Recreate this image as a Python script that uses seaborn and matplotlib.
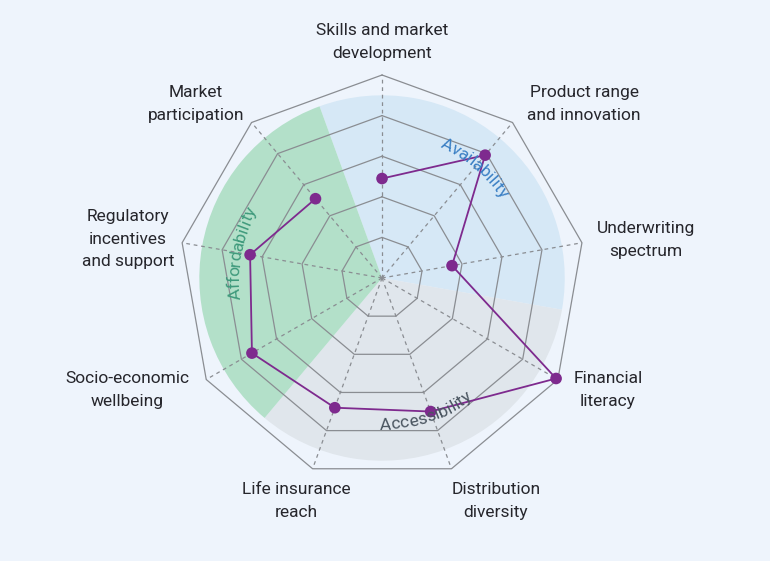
import numpy as np
import pandas as pd
import matplotlib
matplotlib.use('Agg')
import matplotlib.pyplot as plt
import seaborn as sns
from matplotlib.font_manager import FontProperties

# Datos del radar (escala 0-5)
categorias = ['Skills and market\ndevelopment', 'Product range\nand innovation',
              'Underwriting\nspectrum', 'Financial\nliteracy', 'Distribution\ndiversity',
              'Life insurance\nreach', 'Socio-economic\nwellbeing',
              'Regulatory\nincentives\nand support', 'Market\nparticipation']
valores = [2.45, 3.95, 1.75, 4.95, 3.5, 3.4, 3.7, 3.3, 2.55]
grupos = ['Availability', 'Accessibility', 'Affordability']
grupo_centros = [40, 160, 280]
grupo_colores = ['#d6e8f6', '#e0e6ec', '#b3e0c9']
grupo_texto = ['#3a7fc4', '#4a5560', '#3f9a7c']
niveles = [1, 2, 3, 4, 5]

sns.set_theme(style='white')
plt.rcParams['font.family'] = ['Roboto', 'DejaVu Sans']

BG = '#eef4fc'
W, H = 770, 561
fig = plt.figure(figsize=(7.7, 5.61), dpi=100, facecolor=BG)
ax = fig.add_axes([0.2325, 0.1426, 0.5273, 0.7237], projection='polar')
ax.set_facecolor('none')
ax.set_theta_zero_location('N')
ax.set_theta_direction(-1)
ax.set_ylim(0, 5)
ax.grid(False)
ax.spines['polar'].set_visible(False)
ax.set_xticks([])
ax.set_yticks([])

n = len(categorias)
angulos = np.deg2rad(np.arange(n) * 360 / n)

# Sectores de fondo
for centro, col in zip(grupo_centros, grupo_colores):
    ax.bar(np.deg2rad(centro), 4.5, width=np.deg2rad(120), bottom=0,
           color=col, edgecolor='none', zorder=0)

# Rejilla poligonal
cerrado = np.append(angulos, angulos[0])
for lv in niveles:
    ax.plot(cerrado, [lv] * (n + 1), color='#8a8d92', lw=0.9, zorder=1, clip_on=False)
for a in angulos:
    ax.plot([a, a], [0, 5], color='#8a8d92', lw=0.9, ls=(0, (3, 3)), zorder=1, clip_on=False)

# Serie
df = pd.DataFrame({'theta': np.append(angulos, angulos[0]),
                   'valor': valores + [valores[0]]})
sns.lineplot(data=df, x='theta', y='valor', sort=False, color='#7e2a8e', lw=1.3,
             ax=ax, zorder=3)
sns.scatterplot(data=df.iloc[:n], x='theta', y='valor', color='#7e2a8e', s=70,
                edgecolor='none', ax=ax, zorder=4, clip_on=False)
ax.set_xlabel('')
ax.set_ylabel('')

# Etiquetas de ejes (posición en píxeles de la figura)
pos_etq = [(382, 42), (584, 104), (646, 240), (608, 390), (496, 501),
           (296, 501), (127, 390), (128, 239), (196, 104)]
for cat, (px, py) in zip(categorias, pos_etq):
    fig.text(px / W, 1 - py / H, cat, ha='center', va='center', ma='center',
             fontsize=12.5, color='#26262c', linespacing=1.6)

# Texto curvo de los grupos
fig.canvas.draw()
renderer = fig.canvas.get_renderer()
fp = FontProperties(family=['Roboto', 'DejaVu Sans'], size=12.5)
p0 = ax.transData.transform((0, 0))
p1 = ax.transData.transform((0, 1))
px_por_unidad = np.hypot(*(p1 - p0))


def texto_curvo(txt, centro, radio, color, invertir=False):
    anchos = [renderer.get_text_width_height_descent(c, fp, ismath=False)[0] for c in txt]
    r_px = radio * px_por_unidad
    total = np.rad2deg(sum(anchos) / r_px)
    acum = 0
    for c, w in zip(txt, anchos):
        d = np.rad2deg((acum + w / 2) / r_px)
        if invertir:
            b = centro + total / 2 - d
            rot = 180 - b
        else:
            b = centro - total / 2 + d
            rot = -b
        ax.text(np.deg2rad(b), radio, c, fontproperties=fp, color=color, rotation=rot,
                rotation_mode='anchor', ha='center', va='center', zorder=5)
        acum += w


texto_curvo(grupos[0], grupo_centros[0], 3.62, grupo_texto[0])
texto_curvo(grupos[1], grupo_centros[1] + 2, 3.62, grupo_texto[1], invertir=True)
texto_curvo(grupos[2], grupo_centros[2], 3.62, grupo_texto[2])

fig.savefig('out.png', dpi=100, facecolor=BG)
